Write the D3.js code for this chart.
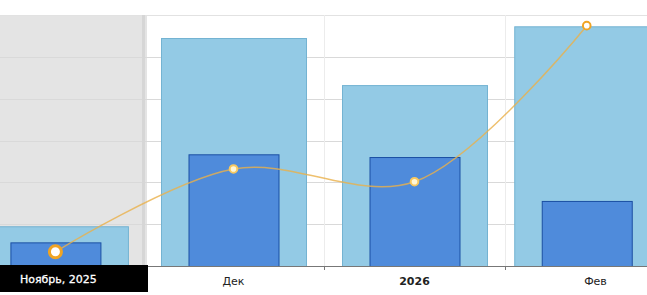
<!DOCTYPE html>
<html>
<head>
<meta charset="utf-8">
<script src="https://cdn.jsdelivr.net/npm/d3@7"></script>
<style>
  html, body { margin: 0; padding: 0; background: #fff; }
  svg { display: block; }
</style>
</head>
<body>
<svg id="chart" width="647" height="295"></svg>
<script>
// ---- data ----
const monthStarts = ["2025-11-01", "2025-12-01", "2026-01-01", "2026-02-01", "2026-03-01"];
const categories = ["Ноябрь, 2025", "Дек", "2026", "Фев"];
const totalValues = [19, 109, 86.5, 114.6];
const partValues  = [11.3, 53.4, 52.1, 31.1];
const lineValues  = [6.8, 46.4, 40.3, 114.9];
const yTicks = [0, 20, 40, 60, 80, 100, 120];

(function () {
// ---- setup ----
const W = 647, H = 295;
const plotTop = 15, plotBottom = 266;
const svg = d3.select("#chart");
const parse = d3.utcParse("%Y-%m-%d");
const starts = monthStarts.map(parse);
const mids = categories.map((c, i) => new Date((+starts[i] + +starts[i + 1]) / 2));
const labelPos = categories.map((c, i) => d3.utcHour.offset(starts[i], 15.5 * 24));

const x = d3.scaleUtc()
  .domain([parse("2025-12-01"), parse("2026-02-01")])
  .range([143, 505]);
const y = d3.scaleLinear().domain([0, 120]).range([plotBottom, plotTop]);

// highlighted (hovered) period
svg.append("rect").attr("x", 0).attr("y", plotTop)
  .attr("width", x(starts[1]) + 4).attr("height", plotBottom - plotTop)
  .attr("fill", "#e4e4e4");

// horizontal gridlines
svg.append("g").selectAll("line").data(yTicks).join("line")
  .attr("x1", 0).attr("x2", W)
  .attr("y1", d => Math.round(y(d)) + 0.5).attr("y2", d => Math.round(y(d)) + 0.5)
  .attr("stroke", d => d === 120 ? "#e2e2e2" : "#d9d9d9")
  .attr("stroke-width", 1);

// vertical gridlines at month starts
svg.append("g").selectAll("line").data(starts.slice(1, 4)).join("line")
  .attr("x1", d => Math.round(x(d)) + 0.5).attr("x2", d => Math.round(x(d)) + 0.5)
  .attr("y1", plotTop).attr("y2", plotBottom)
  .attr("stroke", (d, i) => i === 0 ? "#d6d6d6" : "#ececec")
  .attr("stroke-width", (d, i) => i === 0 ? 3 : 1);

// total bars (light)
const wLight = 145, wDark = 90;
svg.append("g").selectAll("rect").data(totalValues).join("rect")
  .attr("x", (d, i) => x(mids[i]) - wLight / 2 + 0.5)
  .attr("y", d => y(d) + 0.5)
  .attr("width", wLight)
  .attr("height", d => plotBottom - y(d))
  .attr("fill", "#93cae5")
  .attr("stroke", "#74b3d2")
  .attr("stroke-width", 1);

// part bars (dark)
svg.append("g").selectAll("rect").data(partValues).join("rect")
  .attr("x", (d, i) => x(mids[i]) - wDark / 2 + 0.5)
  .attr("y", d => y(d) + 0.5)
  .attr("width", wDark)
  .attr("height", d => plotBottom - y(d))
  .attr("fill", "#4f8bdb")
  .attr("stroke", "#1b4fa3")
  .attr("stroke-width", 1);

// line
const pts = lineValues.map((v, i) => [x(mids[i]), y(v)]);
svg.append("path")
  .attr("d", d3.line().curve(d3.curveCatmullRom.alpha(0.5))(pts))
  .attr("fill", "none")
  .attr("stroke", "#eab04a")
  .attr("stroke-opacity", 0.8)
  .attr("stroke-width", 1.5);

// markers
svg.append("g").selectAll("circle").data(pts).join("circle")
  .attr("cx", d => d[0]).attr("cy", d => d[1])
  .attr("r", (d, i) => i === 0 ? 6 : 3.8)
  .attr("fill", (d, i) => (i === 1 || i === 2) ? "#fff7d8" : "#ffffff")
  .attr("stroke", (d, i) => (i === 1 || i === 2) ? "#f7c860" : "#f0a424")
  .attr("stroke-width", (d, i) => i === 0 ? 3 : 2);

// axis line
svg.append("line").attr("x1", 0).attr("x2", W)
  .attr("y1", plotBottom + 0.5).attr("y2", plotBottom + 0.5)
  .attr("stroke", "#777").attr("stroke-width", 1);
svg.append("g").selectAll("line").data(starts.slice(1, 4)).join("line")
  .attr("x1", d => Math.round(x(d)) + 0.5).attr("x2", d => Math.round(x(d)) + 0.5)
  .attr("y1", plotBottom).attr("y2", plotBottom + 4)
  .attr("stroke", "#777");

// category labels
svg.append("g").selectAll("text").data(categories.slice(1)).join("text")
  .attr("x", (d, i) => x(labelPos[i + 1]))
  .attr("y", 285)
  .attr("text-anchor", "middle")
  .attr("font-family", "DejaVu Sans, Verdana, sans-serif")
  .attr("font-size", 11)
  .attr("font-weight", d => d === "2026" ? "bold" : "normal")
  .attr("fill", "#222")
  .text(d => d);

// hovered category tooltip label
svg.append("rect").attr("x", 0).attr("y", plotBottom - 1)
  .attr("width", x(starts[1]) + 5).attr("height", 27)
  .attr("fill", "#000");
svg.append("text")
  .attr("x", x(labelPos[0]))
  .attr("y", 283)
  .attr("text-anchor", "middle")
  .attr("font-family", "DejaVu Sans, Verdana, sans-serif")
  .attr("font-size", 11)
  .attr("font-weight", "normal")
  .attr("fill", "#fff")
  .attr("stroke", "#fff")
  .attr("stroke-width", 0.3)
  .text(categories[0]);
})();
</script>
</body>
</html>
